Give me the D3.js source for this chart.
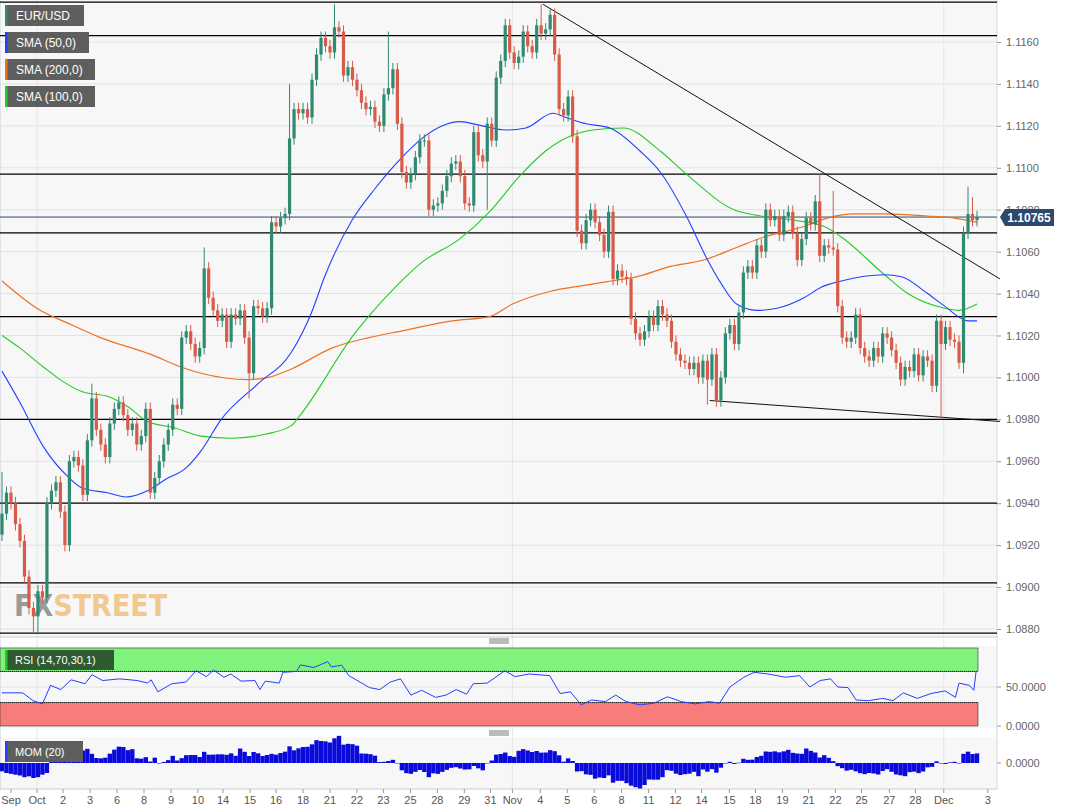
<!DOCTYPE html>
<html><head><meta charset="utf-8">
<script src="https://cdn.jsdelivr.net/npm/d3@7"></script>
<style>body{margin:0;background:#fff;}svg{display:block;font-family:"Liberation Sans",Arial,sans-serif;}</style>
</head><body><svg id="c" width="1070" height="812"></svg>
<script>
// ---- DATA (4h EUR/USD candles, close prices) ----
const closes = [
1.0935,1.0945,1.0940,1.0930,1.0922,1.0905,1.0890,1.0886,
1.0898,1.0895,1.0940,1.0946,1.0950,1.0936,
1.0920,1.0960,1.0962,1.0958,1.0944,1.0970,
1.0990,1.0975,1.0968,1.0962,1.0978,1.0985,
1.0988,1.0982,1.0975,1.0978,1.0968,1.0972,
1.0985,1.0945,1.0952,1.0960,1.0968,1.0975,
1.0987,1.0985,
1.1019,1.1022,1.1016,1.1010,1.1014,1.1052,1.1038,1.1032,1.1027,1.1030,1.1017,1.1030,1.1028,1.1032,1.1019,1.1002,1.1034,1.1033,1.1029,1.1033,1.1074,1.1072,1.1076,1.1078,1.1114,1.1128,1.1126,1.1128,1.1124,1.1142,1.1154,1.1162,1.1158,1.1155,1.1167,1.1165,1.1144,1.1148,1.1142,1.1137,1.1131,1.1128,1.1129,1.1122,1.1120,1.1135,1.1138,1.1147,1.1121,1.1098,
1.1093,1.1097,1.1105,1.1113,1.1113,1.1080,1.1082,1.1083,1.1089,1.1096,1.1102,1.1103,1.1096,1.1083,1.1082,1.1117,1.1106,1.1103,1.1121,1.1113,1.1143,1.1151,1.1168,1.1155,1.1150,1.1153,1.1165,1.1158,1.1155,1.1168,1.1164,1.1166,1.1173,1.1154,1.1128,1.1125,1.1134,1.1115,1.1070,1.1064,1.1075,1.1080,1.1074,1.1068,1.1060,1.1079,1.1047,
1.1051,1.1048,1.1047,1.1028,1.1021,1.1018,1.1022,1.1029,1.1025,1.1034,1.1030,1.1027,1.1017,1.1011,1.1008,1.1007,1.1004,1.1007,1.1000,1.1008,1.0999,1.1011,1.0989,1.1000,1.1021,1.1025,1.1016,1.1031,1.1050,1.1053,1.1050,1.1063,1.1060,1.1080,1.1075,1.1077,1.1068,1.1077,1.1079,1.1069,
1.1056,1.1066,1.1076,1.1073,1.1084,1.1058,1.1063,1.1062,1.1061,1.1034,1.1019,1.1017,1.1019,1.1030,1.1014,1.1010,1.1008,1.1014,1.1010,1.1021,1.1019,1.1013,1.1007,1.0999,1.1005,1.1003,1.1011,1.1001,1.1010,1.1008,1.0996,1.1027,1.1016,1.1024,1.1018,1.1017,1.1007,1.1069,1.1078,1.1075,1.10765
];
const firstOpen = 1.0925;
// notable wicks: [index, high, low]
const wicks = [[0,1.0955,null],[7,null,1.0878],[8,null,1.0878],[20,1.0997,null],[33,null,1.0942],[45,1.1062,null],[55,null,1.0990],[64,1.1140,null],[74,1.1178,null],[86,1.1165,null],[108,null,1.1080],[120,1.1178,null],[157,null,1.0987],[182,1.1097,null],[185,1.1089,null],[209,null,1.0980],[214,null,1.1002],[215,1.1091,null],[216,1.1086,null]];
// SMA lines: [candle index, price]
const sma50 = [[0,1.1003],[4,1.0988],[9.2,1.0967],[14.5,1.0953],[18.1,1.0947],[23.5,1.0945],[27.5,1.0943],[32.4,1.0946],[36.9,1.0952],[40.5,1.0956],[44.3,1.0965],[48.8,1.0980],[57,1.0997],[64.4,1.1012],[68.9,1.1031],[71.8,1.1048],[77.9,1.1075],[83,1.1090],[88.6,1.1104],[93.5,1.1114],[98,1.1120],[101.8,1.1122],[106.9,1.1120],[112.1,1.1118],[116.6,1.1119],[122.6,1.1126],[125.5,1.1124],[130,1.1121],[135.3,1.1119],[142,1.1108],[146.5,1.1098],[152.3,1.1077],[156.8,1.1057],[160,1.1045],[163.5,1.1035],[168,1.1032],[172.5,1.1033],[178.5,1.1038],[182.3,1.1043],[186.8,1.1046],[196.4,1.1049],[200.2,1.1048],[206,1.1040],[209.8,1.1034],[215,1.1027],[217,1.1027]];
const sma100 = [[0,1.1020],[4,1.1014],[9.2,1.1005],[13.6,1.0998],[18.1,1.0993],[23.5,1.0991],[28,1.0986],[32.4,1.0979],[38.3,1.0976],[44.3,1.0972],[51,1.0971],[58.8,1.0973],[64.4,1.0977],[66,1.0981],[78.5,1.1021],[87.5,1.1043],[93.5,1.1055],[101.8,1.1066],[108.5,1.1079],[115.2,1.1096],[121,1.1108],[126.4,1.1115],[131.5,1.1118],[138.3,1.1119],[146.5,1.1108],[152.3,1.1097],[162.9,1.1080],[168.9,1.1077],[176.3,1.1075],[183,1.1072],[186.8,1.1067],[196.4,1.1049],[201.6,1.1040],[209.8,1.1033],[213,1.1032],[217,1.1035]];
const sma200 = [[0,1.1046],[8.5,1.1032],[14.5,1.1026],[21.9,1.1019],[33.1,1.1011],[39.8,1.1005],[44.3,1.1002],[54.8,1.0999],[59.3,1.1000],[64.4,1.1004],[73.4,1.1014],[81.7,1.1019],[88.6,1.1022],[100.2,1.1027],[108.5,1.1029],[113.6,1.1035],[121.9,1.1041],[130,1.1044],[135.6,1.1046],[141.2,1.1048],[148.8,1.1053],[156.2,1.1056],[163.5,1.1062],[169.6,1.1067],[178.5,1.1072],[183.7,1.1076],[189.7,1.1078],[196.4,1.1078],[206,1.1077],[212,1.1076],[217,1.1074]];
const levels = [1.1179,1.1163,1.1097,1.1069,1.1029,1.0980,1.0940,1.0902,1.0878];
const lastPrice = 1.10765;
const trendUpper = [[120.4,1.1178],[222.1,1.1047]];
const trendLower = [[157.5,1.0989],[222.1,1.0979]];
const yTicks = [1.0880,1.0900,1.0920,1.0940,1.0960,1.0980,1.1000,1.1020,1.1040,1.1060,1.1080,1.1100,1.1120,1.1140,1.1160];
const rsi = [[0,42.5],[4.6,42.5],[6.9,32.5],[9,28.3],[10.8,52.1],[13.1,46.7],[15.4,59.2],[18.5,54.2],[20,65.8],[22.4,58.3],[26.2,60.4],[30.1,58.3],[32.4,55],[33.2,59.2],[34.7,43.8],[37.8,54.2],[40.9,56.3],[43.2,70.8],[45.5,63.3],[47.1,71.7],[49.4,62.5],[50.9,66.7],[53.2,57.5],[56.3,58.3],[57.4,46.7],[58.6,57.5],[61.7,55],[62.5,68.8],[65.6,70],[66.4,78.3],[69.4,75],[72.5,82.5],[73.3,75.8],[75.6,77.9],[77.2,64.6],[81.8,49.2],[84.1,46.7],[86.4,56.3],[88.7,60.4],[91,39.6],[93.4,45.8],[96.5,36.7],[98.8,39.6],[101.1,46.7],[103.4,40.8],[104.9,54.2],[108,55],[111.9,70.8],[114.2,63.3],[117.3,66.7],[121.9,64.6],[124.2,41.7],[126.5,43.8],[128.9,27.1],[131.2,33.3],[134.3,31.3],[136.6,39.6],[138.9,31.3],[142,27.1],[145.1,29.2],[148.1,37.5],[151.2,31.3],[154.3,28.3],[157.4,31.3],[159.7,29.2],[162,50],[165.1,62.5],[167.4,68.8],[170.5,66.7],[174.4,62.5],[177.5,64.6],[179.8,50],[182.1,58.3],[184.4,60.4],[186,50],[188.3,49.2],[190.1,33.3],[192.9,32.5],[196,35.4],[198.3,32.5],[200.6,42.5],[203.7,35.4],[206.8,41.7],[209.9,45],[212.2,36.7],[213,55],[215.3,52.1],[216.3,45.8],[216.8,70],[217,70]];
const momHead = [-0.0050,-0.0060,-0.0065,-0.0070,-0.0075,-0.0085,-0.0080,-0.0090,-0.0085,-0.0070,-0.0060,0.0010,0.0008,0.0015,0.0020,0.0050,0.0070,0.0080,0.0075,0.0085];
const xLabels = ["Sep","Oct","2","3","6","8","9","10","14","15","16","18","21","22","23","25","28","29","31","Nov","4","5","6","8","11","12","14","15","18","19","21","22","25","27","28","Dec","3"];
const xLabelIdx = [2,7.8,13.6,19.6,25.6,31.6,37.6,43.6,49.2,55.2,61,67,73,79,84.9,90.9,96.9,102.9,108.7,113.6,119.8,125.8,131.8,137.9,143.9,149.9,155.7,161.9,167.7,173.7,179.5,185.5,191.3,197.5,203.3,209.6,219.4];

// ---- DRAW ----
const svg = d3.select("#c");
const PX = 997;
const x = d3.scaleLinear().domain([0,217]).range([2,977]);
const y = d3.scaleLinear().domain([1.0880,1.1160]).range([629,42]);
const yR = d3.scaleLinear().domain([0,100]).range([726,648]);
const yM = d3.scaleLinear().domain([-0.015,0.015]).range([788,738]);

svg.append("rect").attr("x",0).attr("y",0).attr("width",PX).attr("height",637).attr("fill","#f7f7f7");
svg.append("rect").attr("x",0).attr("y",646).attr("width",PX).attr("height",82).attr("fill","#f7f7f7");
svg.append("rect").attr("x",0).attr("y",737).attr("width",PX).attr("height",52).attr("fill","#f7f7f7");
// grid
yTicks.forEach(t=>svg.append("line").attr("x1",0).attr("x2",PX).attr("y1",y(t)).attr("y2",y(t)).attr("stroke","#e2e2e2"));
[7.8,113.6,209.6].forEach(i=>svg.append("line").attr("x1",x(i)).attr("x2",x(i)).attr("y1",0).attr("y2",789).attr("stroke","#e6e6e6"));
[50].forEach(v=>svg.append("line").attr("x1",0).attr("x2",PX).attr("y1",yR(v)).attr("y2",yR(v)).attr("stroke","#e2e2e2"));
svg.append("line").attr("x1",PX).attr("x2",PX).attr("y1",0).attr("y2",790).attr("stroke","#d8d8d8");
svg.append("line").attr("x1",0).attr("x2",0).attr("y1",0).attr("y2",790).attr("stroke","#c8cce0");

// watermark
const wm = svg.append("text").attr("x",14).attr("y",616).attr("font-family","DejaVu Sans Condensed, DejaVu Sans").attr("font-weight","bold").attr("font-size",30);
wm.append("tspan").attr("fill","#9a9a9a").text("FX");
wm.append("tspan").attr("fill","#f0c890").text("STREET");

// axis
const ax = svg.append("g").attr("transform",`translate(${PX},0)`).call(d3.axisRight(y).tickValues(yTicks).tickFormat(d3.format(".4f")).tickSize(4));
ax.select(".domain").remove();
ax.selectAll("text").attr("fill","#666").attr("font-size",11).attr("x",9);
ax.selectAll("line").attr("stroke","#999");

// levels
levels.forEach(l=>svg.append("line").attr("x1",0).attr("x2",PX).attr("y1",y(l)).attr("y2",y(l)).attr("stroke","#000").attr("stroke-width",1.2));
svg.append("line").attr("x1",0).attr("x2",PX).attr("y1",y(lastPrice)).attr("y2",y(lastPrice)).attr("stroke","#2c4a6e").attr("stroke-width",1);

// SMA lines
const ln = d3.line().x(d=>x(d[0])).y(d=>y(d[1])).curve(d3.curveMonotoneX);
svg.append("path").attr("d",ln(sma200)).attr("fill","none").attr("stroke","#f07020").attr("stroke-width",1.2);
svg.append("path").attr("d",ln(sma100)).attr("fill","none").attr("stroke","#22cc22").attr("stroke-width",1.1);
svg.append("path").attr("d",ln(sma50)).attr("fill","none").attr("stroke","#2040ff").attr("stroke-width",1.1);
const tl = d3.line().x(d=>x(d[0])).y(d=>y(d[1]));
svg.append("path").attr("d",tl(trendUpper)).attr("stroke","#111").attr("fill","none");
svg.append("path").attr("d",tl(trendLower)).attr("stroke","#111").attr("fill","none");

// candles
const wmap = {}; wicks.forEach(w=>wmap[w[0]]=w);
const pad = 0.0003;
closes.forEach((c,i)=>{
  const o = i===0?firstOpen:closes[i-1];
  const up = c>=o;
  const col = up?"#2f8a72":"#d85a48";
  let hi = Math.max(o,c)+pad, lo = Math.min(o,c)-pad;
  if(wmap[i]){ if(wmap[i][1]!=null) hi=wmap[i][1]; if(wmap[i][2]!=null) lo=wmap[i][2]; }
  const cx = x(i);
  svg.append("line").attr("x1",cx).attr("x2",cx).attr("y1",y(hi)).attr("y2",y(lo)).attr("stroke",col).attr("stroke-width",1);
  const top = y(Math.max(o,c)), bot = y(Math.min(o,c));
  svg.append("rect").attr("x",cx-1.6).attr("y",top).attr("width",3.2).attr("height",Math.max(1,bot-top)).attr("fill",col);
});

// price label
const pl = svg.append("g").attr("transform",`translate(1000,${y(lastPrice)})`);
pl.append("path").attr("d","M0,0 L5,-8 L54,-8 L54,9 L5,9 Z").attr("fill","#2c4a6e");
pl.append("text").attr("x",29).attr("y",5).attr("text-anchor","middle").attr("fill","#fff").attr("font-weight","bold").attr("font-size",12).text("1.10765");

// legends
const leg = [["EUR/USD","#2f8a72",79],["SMA (50,0)","#2040ff",84],["SMA (200,0)","#f07020",90],["SMA (100,0)","#22cc22",90]];
leg.forEach((l,k)=>{
  const yy = 5+k*27;
  svg.append("rect").attr("x",5).attr("y",yy).attr("width",l[2]).attr("height",21).attr("fill","#5e5e5e");
  svg.append("rect").attr("x",5).attr("y",yy).attr("width",2.5).attr("height",21).attr("fill",l[1]);
  svg.append("text").attr("x",16).attr("y",yy+15).attr("fill","#fff").attr("font-size",12).text(l[0]);
});

// separators
function grip(yy){ [-2,0,2].forEach(d=>svg.append("line").attr("x1",489).attr("x2",509).attr("y1",yy+d).attr("y2",yy+d).attr("stroke","#555").attr("stroke-width",0.8)); }
svg.append("line").attr("x1",0).attr("x2",PX).attr("y1",637).attr("y2",637).attr("stroke","#ccc");
grip(641); grip(733);

// RSI panel
svg.append("rect").attr("x",0).attr("y",yR(100)).attr("width",978).attr("height",yR(70)-yR(100)).attr("fill","#80f37c").attr("stroke","#333").attr("stroke-width",0.6);
svg.append("rect").attr("x",0).attr("y",yR(30)).attr("width",978).attr("height",yR(0)-yR(30)).attr("fill","#f77c7a").attr("stroke","#333").attr("stroke-width",0.6);
[70,30].forEach(v=>svg.append("line").attr("x1",0).attr("x2",978).attr("y1",yR(v)).attr("y2",yR(v)).attr("stroke","#222").attr("stroke-dasharray","1,1"));
const rl = d3.line().x(d=>x(d[0])).y(d=>yR(d[1]));
svg.append("path").attr("d",rl(rsi)).attr("fill","none").attr("stroke","#2040ff").attr("stroke-width",1);
svg.append("rect").attr("x",5).attr("y",650).attr("width",109).attr("height",20).attr("fill","#2f5a2f");
svg.append("rect").attr("x",5).attr("y",650).attr("width",2.5).attr("height",20).attr("fill","#22cc22");
svg.append("text").attr("x",15).attr("y",664).attr("fill","#fff").attr("font-size",11).text("RSI (14,70,30,1)");
[[50,"50.0000"],[0,"0.0000"]].forEach(t=>{
  svg.append("line").attr("x1",PX).attr("x2",PX+4).attr("y1",yR(t[0])).attr("y2",yR(t[0])).attr("stroke","#999");
  svg.append("text").attr("x",PX+9).attr("y",yR(t[0])+4).attr("fill","#666").attr("font-size",11).text(t[1]);
});

// MOM panel
const mom = closes.map((c,i)=> i<20 ? momHead[i] : c - closes[i-20]);
mom.forEach((m,i)=>{
  svg.append("rect").attr("x",x(i)-2.2).attr("width",4.4).attr("y",Math.min(yM(m),yM(0))).attr("height",Math.max(0.5,Math.abs(yM(m)-yM(0)))).attr("fill","#0a0adc");
});
svg.append("rect").attr("x",5).attr("y",741).attr("width",78).attr("height",21).attr("fill","#5e5e5e");
svg.append("rect").attr("x",5).attr("y",741).attr("width",2.5).attr("height",21).attr("fill","#2040ff");
svg.append("text").attr("x",15).attr("y",756).attr("fill","#fff").attr("font-size",11).text("MOM (20)");
svg.append("line").attr("x1",PX).attr("x2",PX+4).attr("y1",yM(0)).attr("y2",yM(0)).attr("stroke","#999");
svg.append("text").attr("x",PX+9).attr("y",yM(0)+4).attr("fill","#666").attr("font-size",11).text("0.0000");

// x axis
svg.append("line").attr("x1",0).attr("x2",PX).attr("y1",789).attr("y2",789).attr("stroke","#ccc");
xLabels.forEach((t,k)=>{
  const xx = x(xLabelIdx[k]);
  svg.append("line").attr("x1",xx).attr("x2",xx).attr("y1",789).attr("y2",793).attr("stroke","#999");
  svg.append("text").attr("x",xx).attr("y",804).attr("text-anchor","middle").attr("fill","#555").attr("font-size",11).text(t);
});
</script></body></html>
